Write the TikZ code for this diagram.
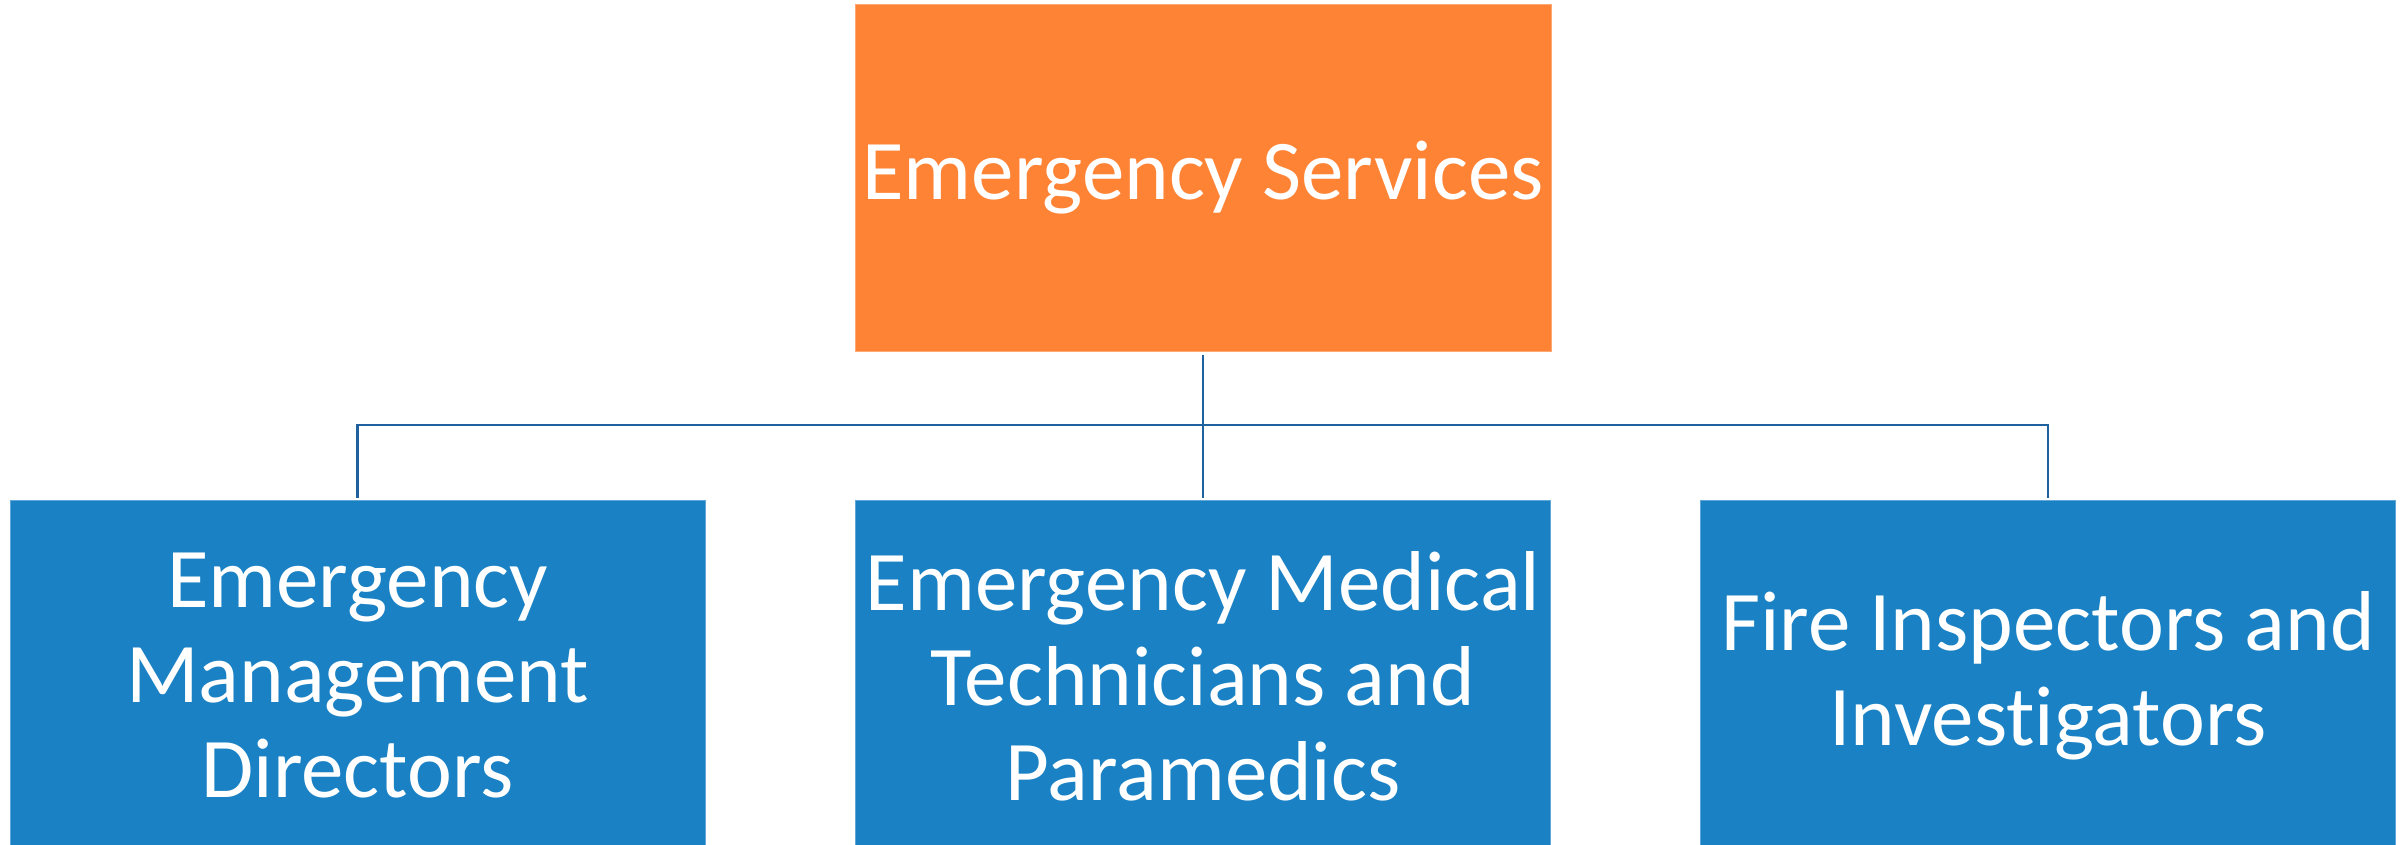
\documentclass[tikz,border=0pt]{standalone}
\usepackage{fontspec}
\setmainfont[Ligatures={NoCommon}]{Carlito}
\definecolor{topfill}{HTML}{FF8335}
\definecolor{boxfill}{HTML}{1A82C4}
\definecolor{linecol}{HTML}{1F619F}
\begin{document}
\begin{tikzpicture}[x=1pt,y=-1pt,
  topbox/.style={fill=topfill, draw=topfill!70!white, line width=1pt, minimum width=696pt, minimum height=347pt, inner sep=0pt, text=white, align=center, font=\fontsize{85}{95}\selectfont},
  subbox/.style={fill=boxfill, draw=boxfill!70!white, line width=1pt, minimum width=695pt, minimum height=352pt, inner sep=0pt, text=white, align=center, font=\fontsize{85}{95}\selectfont},
  conn/.style={draw=linecol, line width=2.5pt}]
\useasboundingbox (0,0) rectangle (2404,844);
\begin{scope}
\clip (0,0) rectangle (2404,844);
\node[topbox] (top) at (1203,177.5) {Emergency Services};
\node[subbox] (b1) at (357.5,676) {Emergency\\Management\\Directors};
\node[subbox] (b2) at (1203,676) {Emergency Medical\\Technicians and\\Paramedics};
\node[subbox] (b3) at (2048,676) {Fire Inspectors and\\Investigators};
\end{scope}
\coordinate (bus) at (1203,425);
\draw[conn, shorten <=3pt, shorten >=2pt] (top.south) -- (b2.north);
\draw[conn, shorten <=2pt, shorten >=2pt] (b1.north) |- (bus) -| (b3.north);
\end{tikzpicture}
\end{document}
